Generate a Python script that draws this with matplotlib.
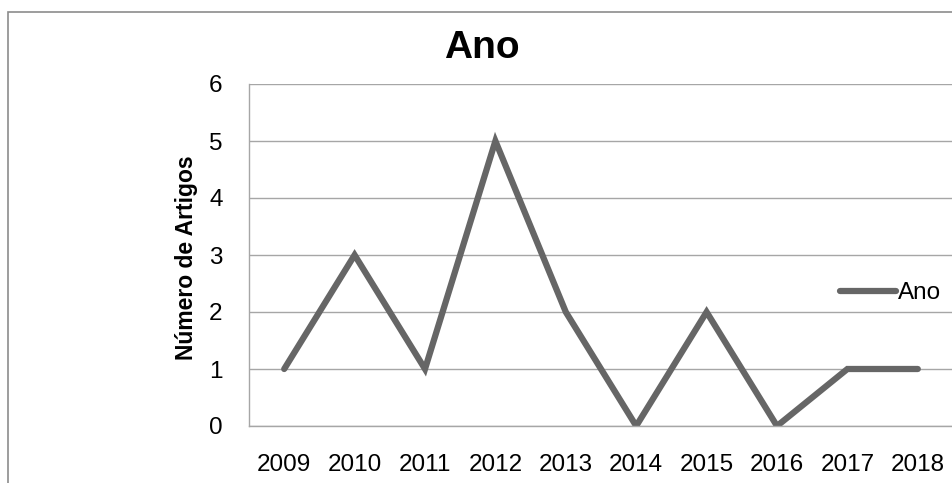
import matplotlib.pyplot as plt
from matplotlib.patches import Rectangle

anos = ['2009', '2010', '2011', '2012', '2013', '2014', '2015', '2016', '2017', '2018']
artigos = [1, 3, 1, 5, 2, 0, 2, 0, 1, 1]
serie = 'Ano'

W, H = 952, 483
plt.rcParams['font.family'] = ['Liberation Sans', 'DejaVu Sans']

fig = plt.figure(figsize=(W / 100, H / 100), dpi=100)

# outer chart border (chart is cropped on the right and bottom)
fig.patches.append(Rectangle((8 / W, -0.1), 1.2, 1 - 12 / H + 0.1, transform=fig.transFigure,
                             fill=False, edgecolor='#8c8c8c', linewidth=1.2))

ax = fig.add_axes([249 / W, 1 - 426 / H, (953 - 249) / W, (426 - 84) / H])
x = range(len(anos))
ax.plot(x, artigos, color='#666666', linewidth=4.5, solid_capstyle='round',
        solid_joinstyle='miter', label=serie)

ax.set_xlim(-0.5, len(anos) - 0.5)
ax.set_ylim(0, 6)
ax.set_yticks(range(7))
ax.set_xticks(list(x))
ax.set_xticklabels(anos)
ax.yaxis.grid(True, color='#a6a6a6', linewidth=1)
ax.set_axisbelow(True)
for s in ['top', 'right']:
    ax.spines[s].set_visible(False)
for s in ['left', 'bottom']:
    ax.spines[s].set_color('#a6a6a6')
    ax.spines[s].set_linewidth(1)
ax.tick_params(axis='x', length=0, labelsize=17.5, pad=20)
ax.tick_params(axis='y', length=0, labelsize=17.5, pad=19)

fig.text(186 / W, 1 - 258 / H, 'Número de Artigos', rotation=90, fontsize=16.5,
         fontweight='bold', ha='center', va='center')
fig.text(482 / W, 1 - 48 / H, 'Ano', fontsize=28, fontweight='bold', ha='center', va='center')

fig.legend(loc='center left', bbox_to_anchor=(830 / W, 1 - 293 / H), frameon=False,
           fontsize=17.5, handlelength=2.3, handletextpad=0.1, borderaxespad=0)

fig.savefig('out.png', dpi=100)
